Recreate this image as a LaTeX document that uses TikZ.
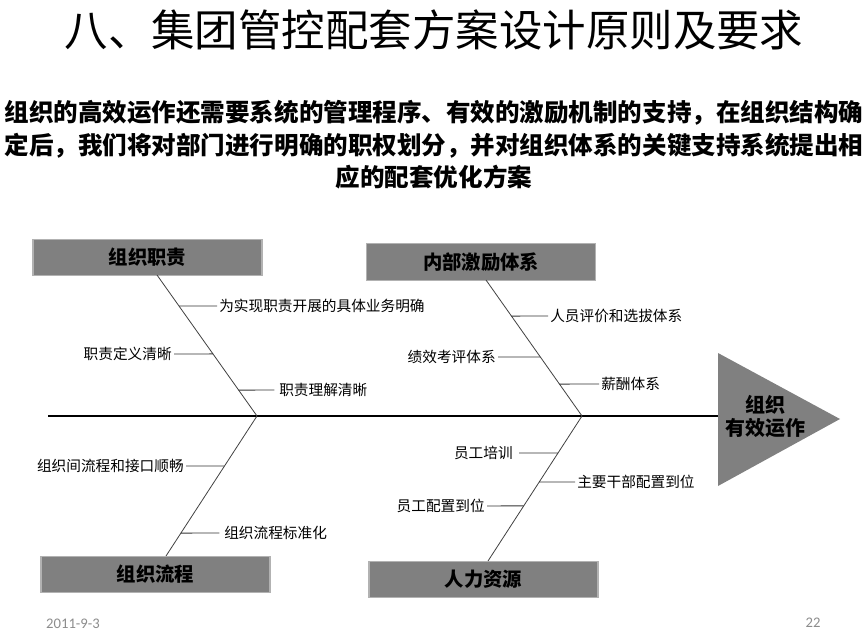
\documentclass[tikz,border=0pt]{standalone}
\usepackage{fontspec}
\setmainfont{Noto Sans CJK SC}
\newfontfamily\footfont{Carlito}
\usetikzlibrary{calc}
\colorlet{boxgray}{black!50}

\begin{document}
\begin{tikzpicture}[x=0.75pt,y=-0.75pt,
  causebox/.style={fill=boxgray,draw=black!30,line width=0.8pt,minimum width=171.75pt,minimum height=27.5pt,inner sep=0pt,font=\fontsize{14.5}{17}\selectfont\bfseries},
  note/.style={inner sep=1.5pt,font=\fontsize{11}{13}\selectfont},
  bone/.style={line width=0.6pt,black!75},
  rib/.style={line width=0.7pt,black!80}]
\useasboundingbox (0,0) rectangle (868,639);
% title and lead text
\node (title) at (434,30) {\fontsize{32.6}{38}\selectfont 八、集团管控配套方案设计原则及要求};
\node[align=center,font=\fontsize{18.4}{24.4}\selectfont\bfseries] (lead) at (434,145)
  {组织的高效运作还需要系统的管理程序、有效的激励机制的支持，在组织结构确\\
   定后，我们将对部门进行明确的职权划分，并对组织体系的关键支持系统提出相\\
   应的配套优化方案};
% cause boxes
\node[causebox] (duty) at (147.5,257.5) {组织职责};
\node[causebox] (incent) at (481,262) {内部激励体系};
\node[causebox] (proc) at (155.5,574.5) {组织流程};
\node[causebox] (hr) at (483.5,579.5) {人力资源};
% head
\fill[boxgray] (718,353) -- (840,419) -- (718,486) -- cycle;
\node[align=center,font=\fontsize{15}{17.5}\selectfont\bfseries] (head) at (765,416.5) {组织\\有效运作};
% spine and bones
\coordinate (tail) at (48,416);
\coordinate (hd) at (718,416);
\coordinate (j1) at (257,416);
\coordinate (j2) at (582,416);
\coordinate (t1) at (157,275);
\coordinate (t2) at (486,280);
\coordinate (b1) at (166,556);
\coordinate (b2) at (488,561);
\draw[line width=0.8pt] (tail) -- (hd);
\draw[bone] (t1) -- (j1);
\draw[bone] (t2) -- (j2);
\draw[bone] (b1) -- (j1);
\draw[bone] (b2) -- (j2);
% ribs, upper left
\node[note,anchor=west] (d1) at (217,306) {为实现职责开展的具体业务明确};
\node[note,anchor=east] (d2) at (174,354) {职责定义清晰};
\node[note,anchor=west] (d3) at (277,390) {职责理解清晰};
\draw[rib] (d1.west) -- ($(t1)!0.22!(j1)$);
\draw[rib] (d2.east) -- ($(t1)!0.56!(j1)$);
\draw[rib] ([xshift=-2pt]d3.west) -- ($(t1)!0.816!(j1)$);
% ribs, upper right
\node[note,anchor=west] (i1) at (548,316) {人员评价和选拔体系};
\node[note,anchor=east] (i2) at (498,357) {绩效考评体系};
\node[note,anchor=west] (i3) at (599,384) {薪酬体系};
\draw[rib] (i1.west) -- ($(t2)!0.265!(j2)$);
\draw[rib] (i2.east) -- ($(t2)!0.566!(j2)$);
\draw[rib] (i3.west) -- ($(t2)!0.765!(j2)$);
% ribs, lower left
\node[note,anchor=east] (p1) at (186,466) {组织间流程和接口顺畅};
\node[note,anchor=west] (p2) at (222,533) {组织流程标准化};
\draw[rib] (p1.east) -- ($(j1)!0.357!(b1)$);
\draw[rib] ([xshift=-2pt]p2.west) -- ($(j1)!0.836!(b1)$);
% ribs, lower right
\node[note,anchor=east] (h1) at (515,453) {员工培训};
\node[note,anchor=west] (h2) at (575,482) {主要干部配置到位};
\node[note,anchor=east] (h3) at (487,506) {员工配置到位};
\draw[rib] ([xshift=3pt]h1.east) -- ($(j2)!0.255!(b2)$);
\draw[rib] (h2.west) -- ($(j2)!0.455!(b2)$);
\draw[rib] (h3.east) -- ($(j2)!0.62!(b2)$);
% footer
\node[text=black!45,font=\footfont\fontsize{11}{13}\selectfont] (date) at (73,624) {2011-9-3};
\node[text=black!45,font=\footfont\fontsize{11}{13}\selectfont] (page) at (813,623) {22};
\end{tikzpicture}
\end{document}
